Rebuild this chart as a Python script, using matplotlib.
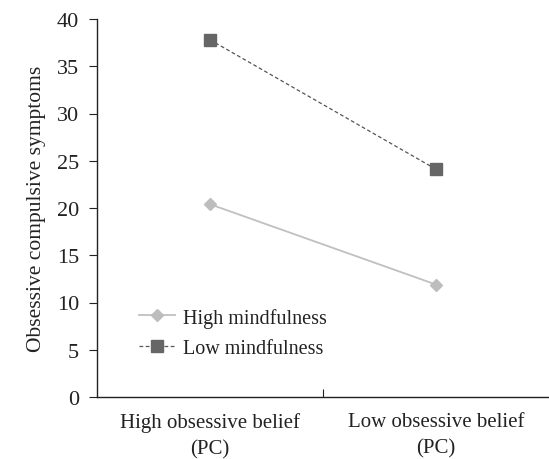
import matplotlib
matplotlib.use("Agg")
import matplotlib.pyplot as plt

categories = ["High obsessive belief\n(PC)", "Low obsessive belief\n(PC)"]
high_mind = [20.4, 11.9]
low_mind = [37.8, 24.1]
yticks = [0, 5, 10, 15, 20, 25, 30, 35, 40]

plt.rcParams['font.family'] = ['Liberation Serif', 'DejaVu Serif']

fig = plt.figure(figsize=(5.49, 4.60), dpi=100)
ax = fig.add_axes([97/549, 1-398/460, 1-97/549, (398-20)/460])

xs = [0.5, 1.5]
ax.plot(xs, high_mind, color='#c0c0c0', lw=1.3, marker='D', ms=6.5,
        mfc='#bdbdbd', mec='#bdbdbd', label='High mindfulness')
ax.plot(xs, low_mind, color='#555555', lw=0.9, ls=(0, (3, 2)), marker='s', ms=9,
        mfc='#666666', mec='#666666', label='Low mindfulness')

ax.set_xlim(0, 2)
ax.set_ylim(0, 40)
ax.set_yticks(yticks)
ax.set_xticks([1.0])
ax.set_xticklabels([''])
ax.tick_params(axis='x', direction='in', length=6, width=0.8, color='#222222')
ax.tick_params(axis='y', direction='out', length=6, width=0.8, color='#222222',
               labelsize=16, pad=7, colors='#222222')
for i, c in enumerate(categories):
    ax.text(xs[i], -1.6, c, ha='center', va='top', fontsize=15, color='#222222',
            linespacing=1.5)

for s in ['top', 'right']:
    ax.spines[s].set_visible(False)
for s in ['left', 'bottom']:
    ax.spines[s].set_linewidth(1.0)
    ax.spines[s].set_color('#222222')

ax.set_ylabel('Obsessive compulsive symptoms', fontsize=15.5, color='#222222', labelpad=8)

leg = ax.legend(loc='lower left', bbox_to_anchor=(0.052, 0.056), frameon=False,
                fontsize=14.5, handlelength=1.8, handletextpad=0.4, labelspacing=0.55)
for t in leg.get_texts():
    t.set_color('#222222')

fig.savefig('out.png', dpi=100)
